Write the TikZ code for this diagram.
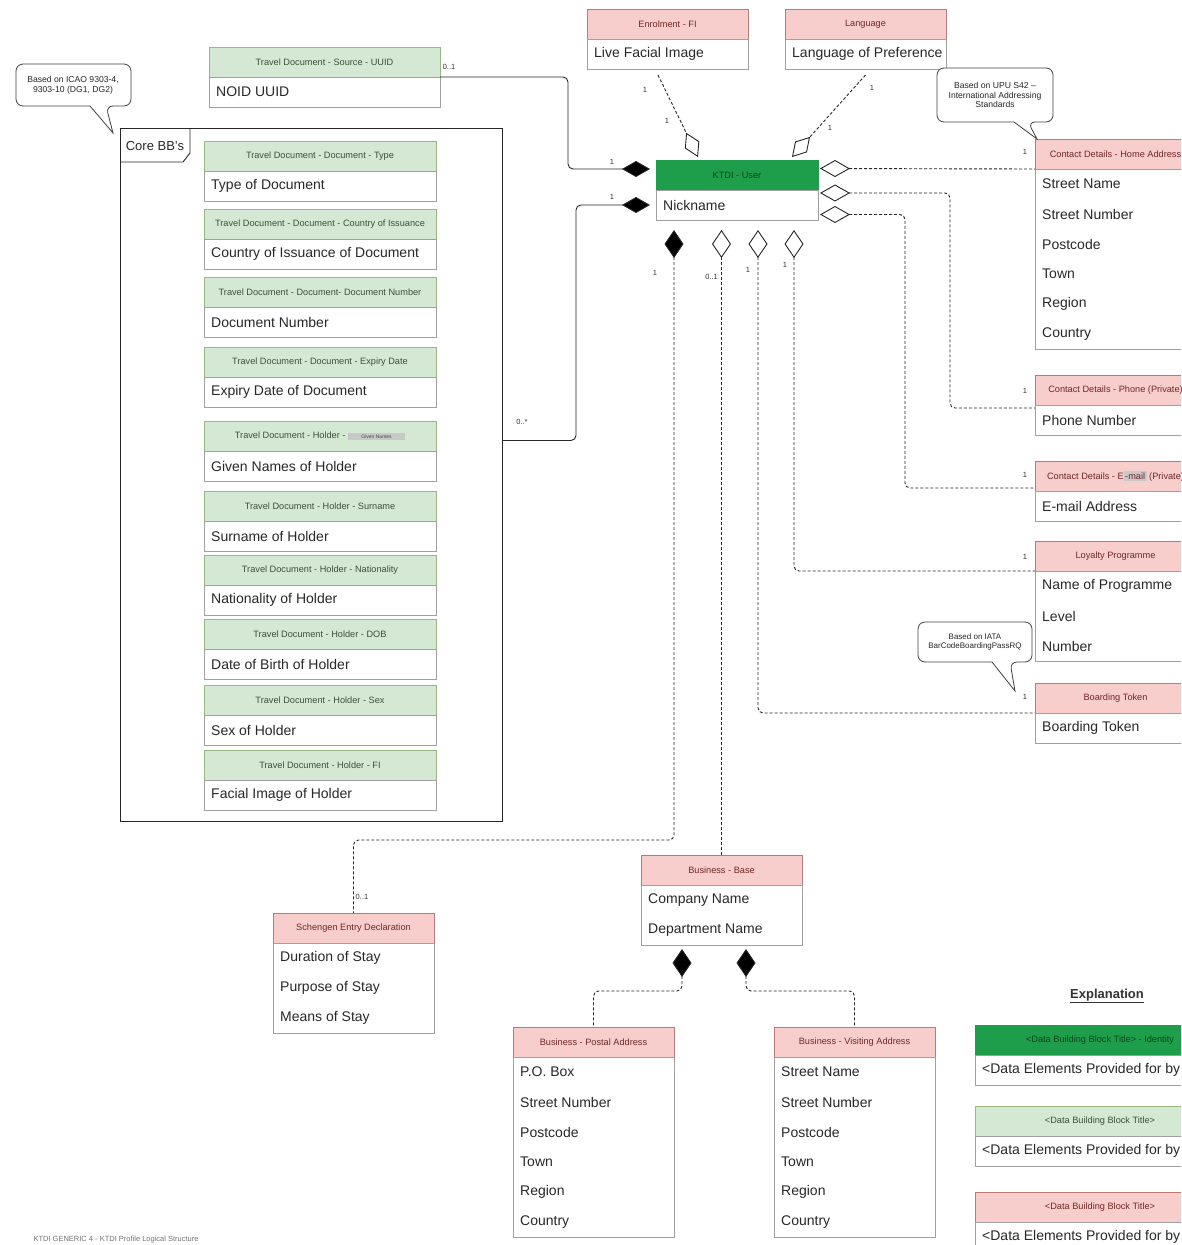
\documentclass[tikz,border=0pt]{standalone}
\usepackage{fontspec}
\setmainfont{Liberation Sans}
\usetikzlibrary{arrows.meta}
\definecolor{pinkfill}{RGB}{248,206,204}
\definecolor{pinkdraw}{RGB}{190,120,118}
\definecolor{pinktext}{RGB}{110,40,40}
\definecolor{greenfill}{RGB}{213,232,212}
\definecolor{greendraw}{RGB}{150,185,130}
\definecolor{greentext}{RGB}{60,80,55}
\definecolor{darkgreen}{RGB}{30,158,74}
\definecolor{darktext}{RGB}{10,70,30}
\definecolor{bodydraw}{RGB}{160,160,160}
\definecolor{itemtext}{RGB}{40,40,40}
\definecolor{grayhl}{RGB}{200,200,200}
\newcommand{\ubox}[8]{%
  \node[#5, minimum width=#4] (#1-h) at (#2,#3) {#6};
  \node[bodyb, minimum width=#4, minimum height=#7*30] (#1-b) at (#1-h.south west) {};
  \foreach \itemtxt [count=\i] in {#8} {%
    \node[itm] (#1-\i) at ([xshift=7pt, yshift={-(\i-0.5)*30}]#1-b.north west) {\itemtxt};
  }%
}
\newcommand{\graybx}[1]{{\setlength{\fboxsep}{1.5pt}\colorbox{grayhl}{#1}}}
\begin{document}
\begin{tikzpicture}[x=1pt,y=-1pt,
  hdr/.style={draw, anchor=north west, minimum height=30, inner sep=0pt, outer sep=0pt,
    font=\fontsize{9.2}{10}\selectfont, line width=0.6pt},
  hpink/.style={hdr, draw=pinkdraw, fill=pinkfill, text=pinktext},
  hgreen/.style={hdr, draw=greendraw, fill=greenfill, text=greentext},
  hdark/.style={hdr, draw=darkgreen, fill=darkgreen, text=darktext},
  bodyb/.style={draw=bodydraw, fill=white, anchor=north west, inner sep=0pt, outer sep=0pt, line width=0.6pt},
  itm/.style={anchor=west, inner sep=0pt, font=\fontsize{14}{16}\selectfont, text=itemtext},
  conn/.style={line width=0.9pt, draw=black!85, rounded corners=5pt},
  dconn/.style={conn, dash pattern=on 3pt off 2pt},
  lbl/.style={font=\fontsize{7.5}{8}\selectfont, text=black!80, inner sep=1pt},
  calltxt/.style={font=\fontsize{8.6}{9.6}\selectfont, align=center, text=black!85},
  callout/.style={draw=black!75, line width=0.8pt, fill=white}
]
\useasboundingbox (0,0) rectangle (1181,1245);
\clip (0,0) rectangle (1181,1245);

% ---------- Core BB's frame ----------
\node[draw=black!85, line width=0.9pt, anchor=north west, minimum width=382, minimum height=693,
  inner sep=0pt, outer sep=0pt] (core) at (120,128) {};
\draw[draw=black!85, line width=0.9pt] (120,162) -- (183,162) -- (190,153) -- (190,128);
\node[font=\fontsize{13}{15}\selectfont, text=black!85] (coretab) at (155,146) {Core BB's};

% ---------- Travel document boxes ----------
\ubox{uuid}{209}{47}{231}{hgreen}{Travel Document - Source - UUID}{1}{NOID UUID}
\ubox{td1}{204}{141}{232}{hgreen}{Travel Document - Document - Type}{1}{Type of Document}
\ubox{td2}{204}{209}{232}{hgreen}{Travel Document - Document - Country of Issuance}{1}{Country of Issuance of Document}
\ubox{td3}{204}{277}{232}{hgreen}{Travel Document - Document- Document Number}{1}{Document Number}
\ubox{td4}{204}{347}{232}{hgreen}{Travel Document - Document - Expiry Date}{1}{Expiry Date of Document}
\ubox{td5}{204}{421}{232}{hgreen}{Travel Document - Holder - \graybx{\makebox[54pt]{\fontsize{5}{6}\selectfont Given Names}}}{1}{Given Names of Holder}
\ubox{td6}{204}{491}{232}{hgreen}{Travel Document - Holder - Surname}{1}{Surname of Holder}
\ubox{td7}{204}{555}{232}{hgreen}{Travel Document - Holder - Nationality}{1}{Nationality of Holder}
\ubox{td8}{204}{619}{232}{hgreen}{Travel Document - Holder - DOB}{1}{Date of Birth of Holder}
\ubox{td9}{204}{685}{232}{hgreen}{Travel Document - Holder - Sex}{1}{Sex of Holder}
\ubox{td10}{204}{750}{232}{hgreen}{Travel Document - Holder - FI}{1}{Facial Image of Holder}

% ---------- Top boxes ----------
\ubox{enrol}{587}{9}{161}{hpink}{Enrolment - FI}{1}{Live Facial Image}
\ubox{lang}{785}{9}{161}{hpink}{Language}{1}{Language of Preference}

% ---------- Central user ----------
\ubox{user}{656}{160}{162}{hdark}{KTDI - User}{1}{Nickname}

% ---------- Right boxes ----------
\ubox{home}{1035}{139}{161}{hpink}{Contact Details - Home Address}{6}{Street Name,Street Number,Postcode,Town,Region,Country}
\ubox{phone}{1035}{375}{161}{hpink}{Contact Details - Phone (Private)}{1}{Phone Number}
\ubox{email}{1035}{461}{161}{hpink}{Contact Details - E\graybx{-mail} (Private)}{1}{E-mail Address}
\ubox{loyalty}{1035}{541}{161}{hpink}{Loyalty Programme}{3}{Name of Programme,Level,Number}
\ubox{boarding}{1035}{683}{161}{hpink}{Boarding Token}{1}{Boarding Token}

% ---------- Bottom boxes ----------
\ubox{bbase}{641}{855}{161}{hpink}{Business - Base}{2}{Company Name,Department Name}
\ubox{schengen}{273}{913}{161}{hpink}{Schengen Entry Declaration}{3}{Duration of Stay,Purpose of Stay,Means of Stay}
\ubox{postal}{513}{1027}{161}{hpink}{Business - Postal Address}{6}{P.O. Box,Street Number,Postcode,Town,Region,Country}
\ubox{visit}{774}{1027}{161}{hpink}{Business - Visiting Address}{6}{Street Name,Street Number,Postcode,Town,Region,Country}

% ---------- Explanation ----------
\node[font=\bfseries\fontsize{13}{15}\selectfont, text=black!80] (expl) at (1107,996) {\underline{Explanation}};
\ubox{ex1}{975}{1025}{250}{hdark}{<Data Building Block Title> - Identity}{1}{<Data Elements Provided for by This Building Block>}
\ubox{ex2}{975}{1106}{250}{hgreen}{<Data Building Block Title>}{1}{<Data Elements Provided for by This Building Block>}
\ubox{ex3}{975}{1192}{250}{hpink}{<Data Building Block Title>}{1}{<Data Elements Provided for by This Building Block>}

% ---------- Callouts ----------
\draw[callout, rounded corners=7pt] (16,64) -- (131,64) -- (131,106) -- (106,106)
  [sharp corners] -- (113,133) -- (90,106) [rounded corners=7pt] -- (16,106) -- cycle;
\node[calltxt] (icao) at (73,85) {Based on ICAO 9303-4,\\9303-10 (DG1, DG2)};
\draw[callout, rounded corners=7pt] (937,68) -- (1053,68) -- (1053,122) -- (1028,122)
  [sharp corners] -- (1037,139) -- (1014,122) [rounded corners=7pt] -- (937,122) -- cycle;
\node[calltxt] (upu) at (995,95) {Based on UPU S42 –\\International Addressing\\Standards};
\draw[callout, rounded corners=7pt] (918,622) -- (1032,622) -- (1032,662) -- (1010,662)
  [sharp corners] -- (1015,691) -- (992,662) [rounded corners=7pt] -- (918,662) -- cycle;
\node[calltxt, font=\fontsize{8}{9.4}\selectfont] (iata) at (975,642) {Based on IATA\\BarCodeBoardingPassRQ};

% ---------- Connectors ----------
\draw[conn, -{Diamond[fill=black,length=28pt,width=16pt]}] (uuid-h.south east) -- ++(128,0) |- ([xshift=-6pt,yshift=6pt]user-h.west);
\draw[conn, -{Diamond[fill=black,length=28pt,width=16pt]}] ([yshift=34pt]core.east) -- ++(74,0) |- ([xshift=-6pt]user-b.west);

\draw[dconn, -{Diamond[fill=white,length=27pt,width=16pt]}] ([xshift=-9.5pt,yshift=-6pt]enrol-b.south) -- ([xshift=-39pt,yshift=3pt]user-h.north);
\draw[dconn, -{Diamond[fill=white,length=27pt,width=16pt]}] ([yshift=-6pt]lang-b.south) -- ([xshift=55pt,yshift=3pt]user-h.north);

\draw[dconn, {Diamond[fill=white,length=30pt,width=17pt]}-] ([xshift=2pt,yshift=6.5pt]user-h.east) -- (home-h.south west);
\draw[dconn, {Diamond[fill=white,length=30pt,width=17pt]}-] ([xshift=2pt,yshift=-3pt]user-h.south east) -- ++(130,0) |- ([yshift=-3pt]phone-h.south west);
\draw[dconn, {Diamond[fill=white,length=30pt,width=17pt]}-] ([xshift=2pt,yshift=-9.5pt]user-b.east) -- ++(85,0) |- ([yshift=3pt]email-h.south west);

\draw[dconn, {Diamond[fill=black,length=28pt,width=19pt]}-] ([xshift=-63pt,yshift=-10pt]user-b.south) -- ++(0,610) -| (schengen-h.north);
\draw[dconn, {Diamond[fill=white,length=28pt,width=19pt]}-] ([xshift=-15.5pt,yshift=-10pt]user-b.south) -- (bbase-h.north);
\draw[dconn, {Diamond[fill=white,length=28pt,width=19pt]}-] ([xshift=21pt,yshift=-10pt]user-b.south) |- (boarding-h.south west);
\draw[dconn, {Diamond[fill=white,length=28pt,width=19pt]}-] ([xshift=57pt,yshift=-10pt]user-b.south) |- (loyalty-h.south west);

\draw[dconn, {Diamond[fill=black,length=28pt,width=19pt]}-] ([xshift=-39.5pt,yshift=-4pt]bbase-b.south) -- ++(0,42) -| (postal-h.north);
\draw[dconn, {Diamond[fill=black,length=28pt,width=19pt]}-] ([xshift=24.5pt,yshift=-4pt]bbase-b.south) -- ++(0,42) -| (visit-h.north);

% ---------- Multiplicity labels ----------
\node[lbl] (m1) at (449,67) {0..1};
\node[lbl] (m2) at (612,162) {1};
\node[lbl] (m3) at (612,197) {1};
\node[lbl] (m4) at (522,422) {0..*};
\node[lbl] (m5) at (645,90) {1};
\node[lbl] (m6) at (667,121) {1};
\node[lbl] (m7) at (872,88) {1};
\node[lbl] (m8) at (830,128) {1};
\node[lbl] (m9) at (655,273) {1};
\node[lbl] (m10) at (362,897) {0..1};
\node[lbl, anchor=east] (m11) at (719,277) {0..1};
\node[lbl] (m12) at (748,270) {1};
\node[lbl] (m13) at (785,265) {1};
\node[lbl] (m14) at (1025,152) {1};
\node[lbl] (m15) at (1025,391) {1};
\node[lbl] (m16) at (1025,475) {1};
\node[lbl] (m17) at (1025,557) {1};
\node[lbl] (m18) at (1025,697) {1};

% ---------- Footer ----------
\node[anchor=west, font=\fontsize{7.5}{8}\selectfont, text=black!55] (footer) at (30,1240) {KTDI GENERIC 4 - KTDI Profile Logical Structure};
\end{tikzpicture}
\end{document}
